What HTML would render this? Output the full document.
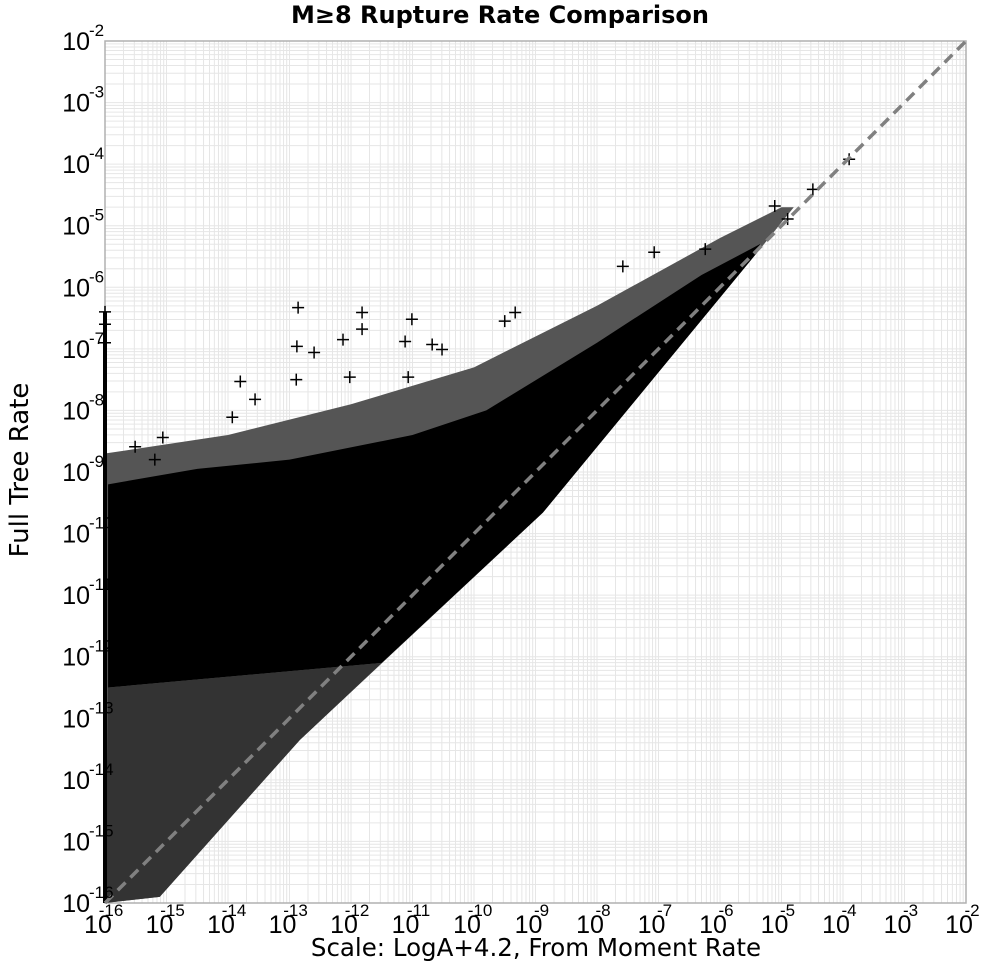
<!DOCTYPE html>
<html><head><meta charset="utf-8"><style>
body{margin:0;background:#fff}
svg{display:block;font-family:"Liberation Sans","DejaVu Sans",sans-serif}
</style></head><body>
<svg id="chart" width="1000" height="965">
<text x="500" y="23" text-anchor="middle" font-size="24" font-weight="bold" font-family="DejaVu Sans, sans-serif">M≥8 Rupture Rate Comparison</text>
<text transform="translate(28,470) rotate(-90)" text-anchor="middle" font-size="26" font-family="DejaVu Sans, sans-serif">Full Tree Rate</text>
<text x="536" y="956" text-anchor="middle" font-size="24.5" font-family="DejaVu Sans, sans-serif">Scale: LogA+4.2, From Moment Rate</text>
<g id="grid"></g>
<g id="marks"></g>
<g id="ticks"></g>
</svg>
<script>
const xTicks=[-16,-15,-14,-13,-12,-11,-10,-9,-8,-7,-6,-5,-4,-3,-2];
const yTicks=[-16,-15,-14,-13,-12,-11,-10,-9,-8,-7,-6,-5,-4,-3,-2];
// log10 envelope of the sparse outer scatter band
const bandX=[-16,-14,-12,-10,-8,-6,-5,-4.8,-5.35,-8.88,-12.83,-15.11,-16];
const bandY=[-8.7,-8.4,-7.9,-7.3,-6.3,-5.2,-4.7,-4.7,-5.38,-9.66,-13.35,-15.9,-16];
// log10 envelope of the solid dense core
const coreX=[-15.95,-14.5,-13,-11,-9.8,-8,-6.3,-5.35,-5.35,-8.88,-11.5,-15.95];
const coreY=[-9.2,-8.95,-8.8,-8.4,-8.0,-6.9,-5.8,-5.3,-5.38,-9.66,-12.1,-12.5];
// log10 envelope of the speckled lower-left scatter
const lowX=[-15.95,-11.5,-12.83,-15.11,-16];
const lowY=[-12.5,-12.1,-13.35,-15.9,-16];
// log10 outlier points
const outX=[-12.86,-11.82,-12.88,-12.60,-12.13,-11.82,-11.01,-11.12,-10.68,-10.52,-13.80,-12.89,-12.02,-13.56,-13.93,-15.06,-15.51,-15.19,-11.07,-9.50,-9.33,-7.58,-7.07,-6.24,-5.11,-4.90,-3.90,-4.49,-16,-16,-16];
const outY=[-6.33,-6.41,-6.96,-7.06,-6.85,-6.68,-6.52,-6.88,-6.93,-7.01,-7.53,-7.50,-7.46,-7.82,-8.11,-8.44,-8.59,-8.80,-7.46,-6.55,-6.41,-5.66,-5.43,-5.38,-4.68,-4.89,-3.92,-4.41,-6.4,-6.6,-6.9];
const X0=105,X1=966,Y0=903,Y1=41,LMIN=-16,LMAX=-2;
const sx=v=>X0+(v-LMIN)/(LMAX-LMIN)*(X1-X0);
const sy=v=>Y0-(v-LMIN)/(LMAX-LMIN)*(Y0-Y1);
const NS="http://www.w3.org/2000/svg";
function mk(t,a,p){const e=document.createElementNS(NS,t);for(const k in a)e.setAttribute(k,a[k]);p.appendChild(e);return e;}
const grid=document.getElementById('grid'),marks=document.getElementById('marks'),ticks=document.getElementById('ticks');
for(let d=LMIN;d<LMAX;d++){for(let m=1;m<10;m++){const v=d+Math.log10(m);
 const gx=mk('line',{x1:sx(v),x2:sx(v),y1:Y1,y2:Y0,stroke:'#e6e6e6','stroke-width':1},grid);
 
 
 const gy=mk('line',{x1:X0,x2:X1,y1:sy(v),y2:sy(v),stroke:'#e6e6e6','stroke-width':1},grid);
 
 }}
const frame=mk('rect',{x:X0,y:Y1,width:X1-X0,height:Y0-Y1,fill:'none',stroke:'#b0b0b0','stroke-width':1.5},grid);


function poly(xs,ys,fill,name){const pts=xs.map((x,i)=>sx(x)+','+sy(ys[i])).join(' ');
 const p=mk('polygon',{points:pts,fill:fill},marks);
 
 }
poly(bandX,bandY,'#555','scatter-band');
poly(coreX,coreY,'#000','scatter-core');
poly(lowX,lowY,'#333','scatter-lower-left');
const col=mk('rect',{x:sx(-16)-2,y:sy(-6.4),width:4,height:sy(-16)-sy(-6.4),fill:'#000'},marks);


outX.forEach((x,i)=>{const cx=sx(x),cy=sy(outY[i]);
 const p=mk('path',{d:`M${cx-6},${cy}H${cx+6}M${cx},${cy-6}V${cy+6}`,stroke:'#000','stroke-width':1.5},marks);
 
 });
const dl=mk('line',{x1:sx(-16),y1:sy(-16),x2:sx(-2),y2:sy(-2),stroke:'#808080','stroke-width':3.5,'stroke-dasharray':'11,7'},marks);


xTicks.forEach(t=>{const x=sx(t);
 const tx=mk('text',{x:x-7,y:933,'text-anchor':'middle','font-size':25},ticks);tx.textContent='10';
 
 
 const ex=mk('text',{x:x+6,y:916,'text-anchor':'middle','font-size':17},ticks);ex.textContent=String(t);
 
 });
yTicks.forEach(t=>{const y=sy(t);
 const tx=mk('text',{x:90,y:y+9,'text-anchor':'end','font-size':25},ticks);tx.textContent='10';
 
 
 const ex=mk('text',{x:89,y:y-5,'text-anchor':'start','font-size':17},ticks);ex.textContent=String(t);
 
 });
</script>
</body></html>
